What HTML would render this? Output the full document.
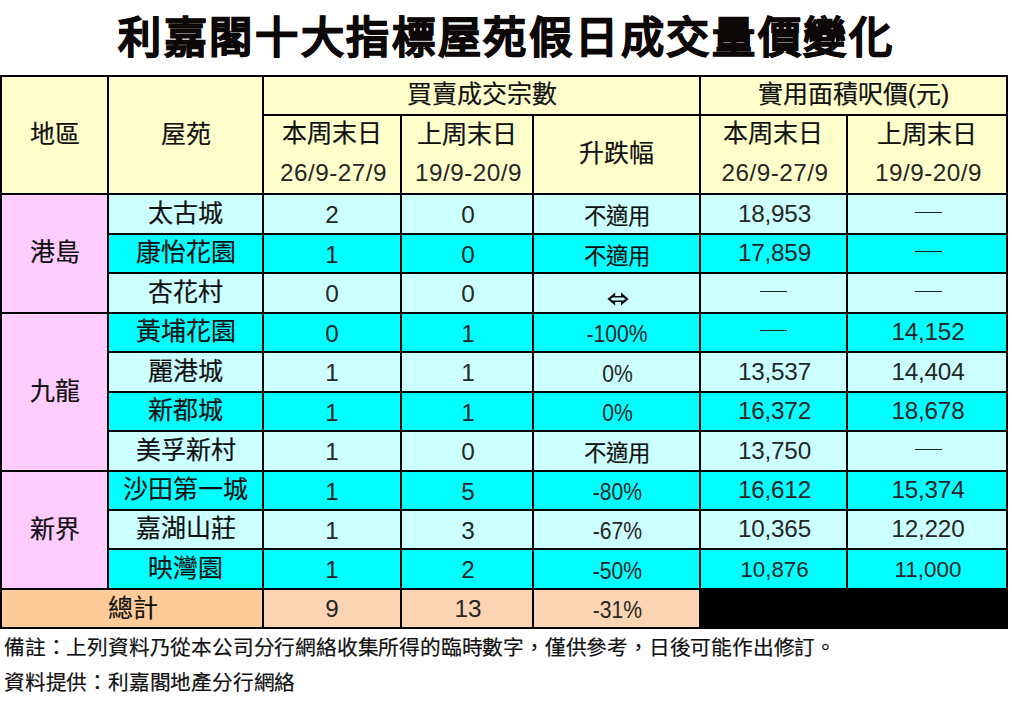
<!DOCTYPE html>
<html lang="zh-HK"><head><meta charset="utf-8"><title>利嘉閣十大指標屋苑假日成交量價變化</title>
<style>
html,body{margin:0;padding:0;background:#fff;}
body{width:1012px;height:702px;position:relative;overflow:hidden;font-family:"Liberation Sans",sans-serif;color:#111;}
#title{position:absolute;left:1px;top:9.6px;width:1008px;text-align:center;font-size:43.2px;letter-spacing:2.68px;text-indent:2.68px;font-weight:bold;line-height:56px;white-space:nowrap;color:#0c0808;-webkit-text-stroke:1px #0c0808;}
#grid{position:absolute;left:0;top:75px;width:1008px;height:554px;background:#000;}
.c{position:absolute;display:flex;align-items:center;justify-content:center;font-size:25px;line-height:30px;white-space:nowrap;box-sizing:border-box;-webkit-text-stroke:0.2px #111;}
.c span{position:relative;display:block;}
.cj{top:-1.2px;}
.na{font-size:22.4px;top:3px;left:0.5px;}
.pct{transform:scaleX(0.87);top:1.5px;left:1px;font-size:24.3px;}
.pr{letter-spacing:-0.25px;left:1px;top:-0.2px;font-size:24.3px;}
.c .ps{font-size:22.4px;top:1.4px;letter-spacing:0;}
.n{font-size:24.3px;top:1.3px;}
.n3{left:1px;}
.n,.pr,.pct,.d{-webkit-text-stroke:0;color:#262626;}
.hid{position:absolute;font-size:0;line-height:0;color:transparent;width:0;height:0;overflow:hidden;}
.ar{position:relative;top:5.8px;left:1px;display:block;}
.c i{font-style:normal;display:block;}
.c .two{display:block;text-align:center;line-height:39px;top:-2px;}
.u{position:relative;top:1.5px;}
.d{letter-spacing:0.5px;position:relative;top:0.5px;left:1.5px;font-size:24.3px;}
.dl{display:block;width:27px;height:1px;background:#222;position:relative;top:-2px;font-size:0;line-height:0;color:transparent;overflow:hidden;}
.dr{left:1.4px;}
.note{position:absolute;left:4px;font-size:20.7px;letter-spacing:-0.2px;line-height:30px;white-space:nowrap;-webkit-text-stroke:0.2px #111;}
</style></head><body>
<div id="title">利嘉閣十大指標屋苑假日成交量價變化</div>
<div id="grid"></div>
<div class="c " style="left:2px;top:77px;width:105px;height:116px;background:#FFFFCC"><span class="cj">地區</span></div>
<div class="c " style="left:109px;top:77px;width:153px;height:116px;background:#FFFFCC"><span class="cj">屋苑</span></div>
<div class="c h1" style="left:264px;top:77px;width:435px;height:37px;background:#FFFFCC"><span class="cj">買賣成交宗數</span></div>
<div class="c h1" style="left:701px;top:77px;width:305px;height:37px;background:#FFFFCC"><span class="cj">實用面積呎價(元)</span></div>
<div class="c " style="left:264px;top:116px;width:136px;height:77px;background:#FFFFCC"><span class="two"><i>本周末日</i><i class="d">26/9-27/9</i></span></div>
<div class="c " style="left:402px;top:116px;width:130px;height:77px;background:#FFFFCC"><span class="two"><i class="u">上周末日</i><i class="d">19/9-20/9</i></span></div>
<div class="c " style="left:534px;top:116px;width:165px;height:77px;background:#FFFFCC"><span class="cj">升跌幅</span></div>
<div class="c " style="left:701px;top:116px;width:145px;height:77px;background:#FFFFCC"><span class="two"><i>本周末日</i><i class="d">26/9-27/9</i></span></div>
<div class="c " style="left:848px;top:116px;width:158px;height:77px;background:#FFFFCC"><span class="two"><i class="u">上周末日</i><i class="d">19/9-20/9</i></span></div>
<div class="c " style="left:2px;top:195px;width:105px;height:117px;background:#FFCCFF"><span class="cj">港島</span></div>
<div class="c " style="left:2px;top:314px;width:105px;height:156px;background:#FFCCFF"><span class="cj">九龍</span></div>
<div class="c " style="left:2px;top:472px;width:105px;height:116px;background:#FFCCFF"><span class="cj">新界</span></div>
<div class="c " style="left:109px;top:195px;width:153px;height:38px;background:#CCFFFF"><span class="cj">太古城</span></div>
<div class="c " style="left:264px;top:195px;width:136px;height:38px;background:#CCFFFF"><span class="n">2</span></div>
<div class="c " style="left:402px;top:195px;width:130px;height:38px;background:#CCFFFF"><span class="n n3">0</span></div>
<div class="c " style="left:534px;top:195px;width:165px;height:38px;background:#CCFFFF"><span class="na">不適用</span></div>
<div class="c " style="left:701px;top:195px;width:145px;height:38px;background:#CCFFFF"><span class="pr">18,953</span></div>
<div class="c dash" style="left:848px;top:195px;width:158px;height:38px;background:#CCFFFF"><b class="dl dr">—</b></div>
<div class="c " style="left:109px;top:235px;width:153px;height:37px;background:#00FFFF"><span class="cj">康怡花園</span></div>
<div class="c " style="left:264px;top:235px;width:136px;height:37px;background:#00FFFF"><span class="n">1</span></div>
<div class="c " style="left:402px;top:235px;width:130px;height:37px;background:#00FFFF"><span class="n n3">0</span></div>
<div class="c " style="left:534px;top:235px;width:165px;height:37px;background:#00FFFF"><span class="na">不適用</span></div>
<div class="c " style="left:701px;top:235px;width:145px;height:37px;background:#00FFFF"><span class="pr">17,859</span></div>
<div class="c dash" style="left:848px;top:235px;width:158px;height:37px;background:#00FFFF"><b class="dl dr">—</b></div>
<div class="c " style="left:109px;top:274px;width:153px;height:38px;background:#CCFFFF"><span class="cj">杏花村</span></div>
<div class="c " style="left:264px;top:274px;width:136px;height:38px;background:#CCFFFF"><span class="n">0</span></div>
<div class="c " style="left:402px;top:274px;width:130px;height:38px;background:#CCFFFF"><span class="n n3">0</span></div>
<div class="c arr" style="left:534px;top:274px;width:165px;height:38px;background:#CCFFFF"><svg class="ar" width="26" height="18" viewBox="0 0 26 18"><path fill-rule="evenodd" fill="#0a0a0a" d="M2.4,9 L10.2,2.4 L10.2,5.9 L16,5.9 L16,2.4 L23.6,9 L16,15.6 L16,12.1 L10.2,12.1 L10.2,15.6 Z M5.6,9 L7.6,10.6 L18.5,10.6 L20.5,9 L18.5,7.4 L7.6,7.4 Z"/></svg><b class="hid">⇔</b></div>
<div class="c dash" style="left:701px;top:274px;width:145px;height:38px;background:#CCFFFF"><b class="dl">—</b></div>
<div class="c dash" style="left:848px;top:274px;width:158px;height:38px;background:#CCFFFF"><b class="dl dr">—</b></div>
<div class="c " style="left:109px;top:314px;width:153px;height:37px;background:#00FFFF"><span class="cj">黃埔花園</span></div>
<div class="c " style="left:264px;top:314px;width:136px;height:37px;background:#00FFFF"><span class="n">0</span></div>
<div class="c " style="left:402px;top:314px;width:130px;height:37px;background:#00FFFF"><span class="n n3">1</span></div>
<div class="c " style="left:534px;top:314px;width:165px;height:37px;background:#00FFFF"><span class="pct">-100%</span></div>
<div class="c dash" style="left:701px;top:314px;width:145px;height:37px;background:#00FFFF"><b class="dl">—</b></div>
<div class="c " style="left:848px;top:314px;width:158px;height:37px;background:#00FFFF"><span class="pr">14,152</span></div>
<div class="c " style="left:109px;top:353px;width:153px;height:38px;background:#CCFFFF"><span class="cj">麗港城</span></div>
<div class="c " style="left:264px;top:353px;width:136px;height:38px;background:#CCFFFF"><span class="n">1</span></div>
<div class="c " style="left:402px;top:353px;width:130px;height:38px;background:#CCFFFF"><span class="n n3">1</span></div>
<div class="c " style="left:534px;top:353px;width:165px;height:38px;background:#CCFFFF"><span class="pct">0%</span></div>
<div class="c " style="left:701px;top:353px;width:145px;height:38px;background:#CCFFFF"><span class="pr">13,537</span></div>
<div class="c " style="left:848px;top:353px;width:158px;height:38px;background:#CCFFFF"><span class="pr">14,404</span></div>
<div class="c " style="left:109px;top:393px;width:153px;height:37px;background:#00FFFF"><span class="cj">新都城</span></div>
<div class="c " style="left:264px;top:393px;width:136px;height:37px;background:#00FFFF"><span class="n">1</span></div>
<div class="c " style="left:402px;top:393px;width:130px;height:37px;background:#00FFFF"><span class="n n3">1</span></div>
<div class="c " style="left:534px;top:393px;width:165px;height:37px;background:#00FFFF"><span class="pct">0%</span></div>
<div class="c " style="left:701px;top:393px;width:145px;height:37px;background:#00FFFF"><span class="pr">16,372</span></div>
<div class="c " style="left:848px;top:393px;width:158px;height:37px;background:#00FFFF"><span class="pr">18,678</span></div>
<div class="c " style="left:109px;top:432px;width:153px;height:38px;background:#CCFFFF"><span class="cj">美孚新村</span></div>
<div class="c " style="left:264px;top:432px;width:136px;height:38px;background:#CCFFFF"><span class="n">1</span></div>
<div class="c " style="left:402px;top:432px;width:130px;height:38px;background:#CCFFFF"><span class="n n3">0</span></div>
<div class="c " style="left:534px;top:432px;width:165px;height:38px;background:#CCFFFF"><span class="na">不適用</span></div>
<div class="c " style="left:701px;top:432px;width:145px;height:38px;background:#CCFFFF"><span class="pr">13,750</span></div>
<div class="c dash" style="left:848px;top:432px;width:158px;height:38px;background:#CCFFFF"><b class="dl dr">—</b></div>
<div class="c " style="left:109px;top:472px;width:153px;height:37px;background:#00FFFF"><span class="cj">沙田第一城</span></div>
<div class="c " style="left:264px;top:472px;width:136px;height:37px;background:#00FFFF"><span class="n">1</span></div>
<div class="c " style="left:402px;top:472px;width:130px;height:37px;background:#00FFFF"><span class="n n3">5</span></div>
<div class="c " style="left:534px;top:472px;width:165px;height:37px;background:#00FFFF"><span class="pct">-80%</span></div>
<div class="c " style="left:701px;top:472px;width:145px;height:37px;background:#00FFFF"><span class="pr">16,612</span></div>
<div class="c " style="left:848px;top:472px;width:158px;height:37px;background:#00FFFF"><span class="pr">15,374</span></div>
<div class="c " style="left:109px;top:511px;width:153px;height:37px;background:#CCFFFF"><span class="cj">嘉湖山莊</span></div>
<div class="c " style="left:264px;top:511px;width:136px;height:37px;background:#CCFFFF"><span class="n">1</span></div>
<div class="c " style="left:402px;top:511px;width:130px;height:37px;background:#CCFFFF"><span class="n n3">3</span></div>
<div class="c " style="left:534px;top:511px;width:165px;height:37px;background:#CCFFFF"><span class="pct">-67%</span></div>
<div class="c " style="left:701px;top:511px;width:145px;height:37px;background:#CCFFFF"><span class="pr">10,365</span></div>
<div class="c " style="left:848px;top:511px;width:158px;height:37px;background:#CCFFFF"><span class="pr">12,220</span></div>
<div class="c " style="left:109px;top:550px;width:153px;height:38px;background:#00FFFF"><span class="cj">映灣園</span></div>
<div class="c " style="left:264px;top:550px;width:136px;height:38px;background:#00FFFF"><span class="n">1</span></div>
<div class="c " style="left:402px;top:550px;width:130px;height:38px;background:#00FFFF"><span class="n n3">2</span></div>
<div class="c " style="left:534px;top:550px;width:165px;height:38px;background:#00FFFF"><span class="pct">-50%</span></div>
<div class="c " style="left:701px;top:550px;width:145px;height:38px;background:#00FFFF"><span class="pr ps">10,876</span></div>
<div class="c " style="left:848px;top:550px;width:158px;height:38px;background:#00FFFF"><span class="pr ps">11,000</span></div>
<div class="c " style="left:2px;top:590px;width:260px;height:37px;background:#FFCC99"><span class="cj" style="top:-1px;left:1px">總計</span></div>
<div class="c " style="left:264px;top:590px;width:136px;height:37px;background:#FBD4B4"><span class="n" style="top:0.3px">9</span></div>
<div class="c " style="left:402px;top:590px;width:130px;height:37px;background:#FBD4B4"><span class="n n3" style="top:0.3px">13</span></div>
<div class="c " style="left:534px;top:590px;width:165px;height:37px;background:#FBD4B4"><span class="pct">-31%</span></div>
<div class="note" style="top:632.9px">備註：上列資料乃從本公司分行網絡收集所得的臨時數字，僅供參考，日後可能作出修訂。</div>
<div class="note" style="top:667.5px">資料提供：利嘉閣地產分行網絡</div>
</body></html>
